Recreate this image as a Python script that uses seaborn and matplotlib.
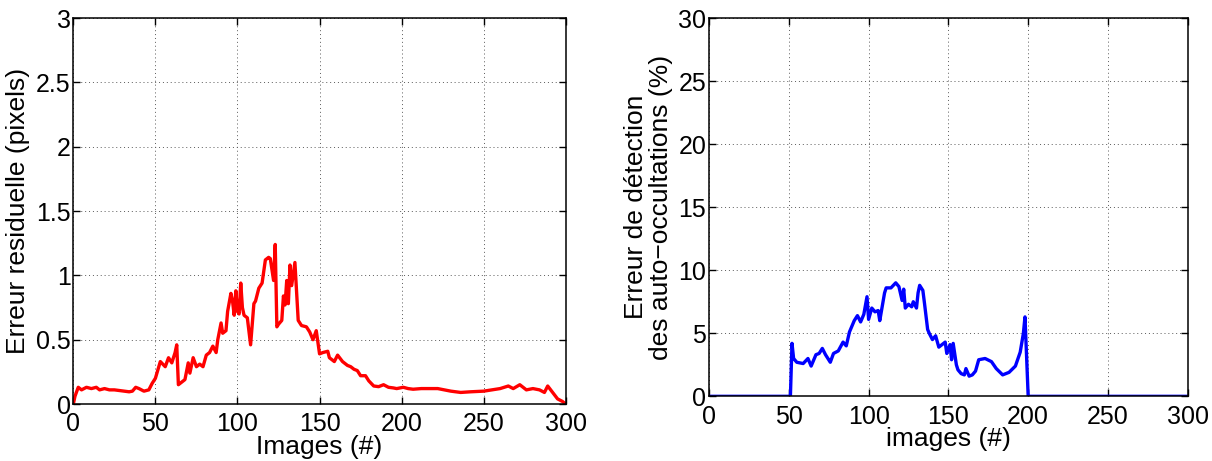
import matplotlib
matplotlib.use("Agg")
import matplotlib.pyplot as plt
from matplotlib.ticker import FormatStrFormatter
import pandas as pd
import seaborn as sns

# left panel: residual error (pixels) vs image index
res_x = [0, 1, 3, 5, 8, 11, 14, 16, 19, 22, 25, 28, 31, 34, 36, 38, 40, 43, 46, 48,
         50, 53, 56, 58, 60, 62, 63, 64, 66, 68, 70, 71, 73, 75, 77, 79, 81, 83, 85, 87,
         88, 90, 91, 93, 94, 96, 97, 98, 99, 100, 101, 102, 103, 104, 106, 108, 110, 111,
         113, 115, 117, 119, 120, 122, 123, 124, 125, 127, 128, 129, 130, 131, 132, 133,
         135, 137, 139, 142, 144, 146, 148, 150, 152, 155, 156, 159, 161, 164, 167, 169,
         171, 173, 175, 178, 180, 183, 186, 189, 192, 195, 197, 201, 204, 207, 212, 216,
         222, 230, 236, 242, 250, 255, 260, 265, 268, 272, 276, 280, 284, 287, 289, 292,
         295, 298, 300]
res_y = [0.0, 0.06, 0.13, 0.11, 0.13, 0.12, 0.13, 0.11, 0.12, 0.11, 0.11, 0.105, 0.10,
         0.095, 0.10, 0.13, 0.12, 0.10, 0.11, 0.16,
         0.20, 0.33, 0.29, 0.36, 0.32, 0.40, 0.46, 0.15, 0.17, 0.19, 0.32, 0.24, 0.36,
         0.29, 0.31, 0.29, 0.38, 0.40, 0.45, 0.40,
         0.50, 0.63, 0.55, 0.57, 0.72, 0.86, 0.80, 0.69, 0.88, 0.72, 0.70, 0.94, 0.75,
         0.69, 0.67, 0.46, 0.78, 0.80,
         0.90, 0.94, 1.12, 1.14, 1.13, 0.96, 1.24, 0.60, 0.62, 0.65, 0.84, 0.77, 0.96,
         0.78, 1.08, 0.92,
         1.10, 0.65, 0.61, 0.60, 0.56, 0.50, 0.57, 0.39, 0.40, 0.41, 0.36, 0.33, 0.38,
         0.33, 0.30, 0.29,
         0.27, 0.26, 0.22, 0.22, 0.18, 0.14, 0.135, 0.15, 0.13, 0.125, 0.12, 0.13, 0.12,
         0.115, 0.12, 0.12,
         0.12, 0.10, 0.09, 0.095, 0.10, 0.11, 0.12, 0.14, 0.12, 0.15, 0.11, 0.12, 0.11,
         0.09, 0.14, 0.09,
         0.04, 0.02, 0.0]

# right panel: self-occlusion detection error (%) vs image index
occ_x = [0, 51, 52, 53, 55, 59, 62, 64, 67, 69, 71, 73, 75, 76, 78, 81, 84, 86, 88, 91,
         93, 95, 97, 99, 100, 102, 104, 106, 107, 110, 111, 114, 117, 119, 121, 122, 123,
         125, 127, 128, 130, 131, 132, 134, 135, 137, 138, 140, 142, 144, 146, 148, 149,
         151, 152, 153, 155, 156, 158, 160, 161, 163, 165, 167, 169, 173, 177, 180, 184,
         188, 192, 195, 197, 198, 200, 300]
occ_y = [0, 0, 4.2, 3.0, 2.7, 2.6, 3.0, 2.4, 3.3, 3.4, 3.8, 3.3, 2.9, 2.7, 3.4, 3.6,
         4.3, 4.0, 5.1, 6.0,
         6.4, 5.9, 6.5, 7.9, 6.1, 7.0, 6.7, 6.8, 6.0, 8.2, 8.6, 8.6, 9.0, 8.7, 7.6, 8.5,
         7.0,
         7.3, 7.1, 7.5, 7.0, 8.2, 8.8, 8.4, 7.4, 5.3, 5.0, 4.5, 4.8, 3.9, 4.1, 4.3, 3.4,
         4.1, 2.9, 4.2, 2.5, 2.1, 1.8, 1.7, 2.2, 1.6, 1.7, 2.0, 2.9, 3.0, 2.75, 2.2, 1.7,
         1.9, 2.4, 3.5, 5.0, 6.3, 0, 0]

sns.set_style("white")
plt.rcParams.update({
    "font.family": ["Liberation Sans", "DejaVu Sans"],
    "text.color": "black",
    "axes.labelcolor": "black",
    "xtick.color": "black",
    "ytick.color": "black",
    "axes.edgecolor": "black",
    "axes.linewidth": 1.1,
    "xtick.direction": "in",
    "ytick.direction": "in",
    "xtick.top": True,
    "ytick.right": True,
    "xtick.bottom": True,
    "ytick.left": True,
    "xtick.major.size": 5,
    "ytick.major.size": 5,
    "xtick.major.width": 1.0,
    "ytick.major.width": 1.0,
})

fig = plt.figure(figsize=(12.12, 4.61), dpi=100)
ax1 = fig.add_axes([0.0605, 0.1236, 0.4063, 0.8373])
ax2 = fig.add_axes([0.585, 0.1403, 0.395, 0.8206])

df1 = pd.DataFrame({"x": res_x, "y": res_y})
df2 = pd.DataFrame({"x": occ_x, "y": occ_y})
sns.lineplot(data=df1, x="x", y="y", ax=ax1, color="#FF0000", linewidth=2.4)
sns.lineplot(data=df2, x="x", y="y", ax=ax2, color="#0000FF", linewidth=2.4)

for ax in (ax1, ax2):
    ax.set_xlim(0, 300)
    ax.set_xticks(range(0, 301, 50))
    ax.grid(True, color="0.35", linestyle=(0, (1, 3)), linewidth=0.7)
    ax.tick_params(labelsize=18, colors="black")
    ax.tick_params(axis="x", pad=6)
    ax.tick_params(axis="y", pad=2)
    for sp in ax.spines.values():
        sp.set_visible(True)
        sp.set_color("black")

ax1.set_ylim(0, 3)
ax1.set_yticks([0, 0.5, 1, 1.5, 2, 2.5, 3])
ax1.yaxis.set_major_formatter(FormatStrFormatter("%g"))
ax1.set_xlabel("Images (#)", fontsize=19, va="top")
ax1.set_ylabel("Erreur residuelle (pixels)", fontsize=19)
ax1.xaxis.set_label_coords(0.5, -0.08)
ax1.yaxis.set_label_coords(-0.088, 0.5)

ax2.set_ylim(0, 30)
ax2.set_yticks(range(0, 31, 5))
ax2.set_xlabel("images (#)", fontsize=19, va="top")
ax2.set_ylabel("Erreur de détection\ndes auto\u2212occultations (%)", fontsize=19,
               linespacing=1.05)
ax2.xaxis.set_label_coords(0.5, -0.08)
ax2.yaxis.set_label_coords(-0.075, 0.5)

plt.savefig("out.png", dpi=100)
plt.close()
